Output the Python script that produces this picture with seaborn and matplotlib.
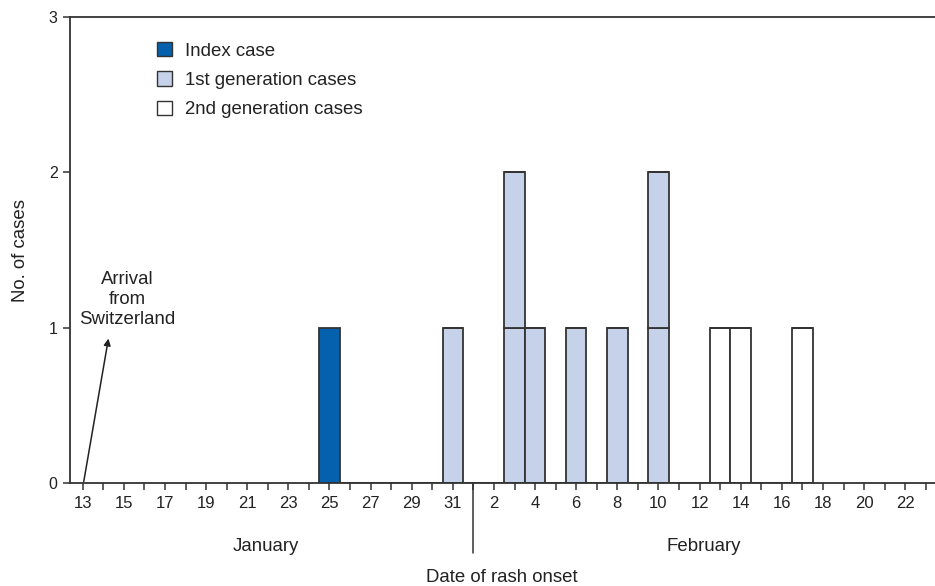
import matplotlib
matplotlib.use("Agg")
import matplotlib.pyplot as plt
import matplotlib.transforms as mtransforms
from matplotlib.patches import Patch
import seaborn as sns
import pandas as pd

# ---- data ----
day_labels = ["13", "15", "17", "19", "21", "23", "25", "27", "29", "31",
              "2", "4", "6", "8", "10", "12", "14", "16", "18", "20", "22"]
# case onset days (index: Jan 13 = 0 ... Feb 23 = 41)
case_day = [12, 18, 21, 21, 22, 24, 26, 28, 28, 31, 32, 35]
case_gen = ["Index case", "1st generation cases", "1st generation cases",
            "1st generation cases", "1st generation cases", "1st generation cases",
            "1st generation cases", "1st generation cases", "1st generation cases",
            "2nd generation cases", "2nd generation cases", "2nd generation cases"]
generations = ["Index case", "1st generation cases", "2nd generation cases"]
gen_colors = {"Index case": "#0561AE",
              "1st generation cases": "#C5D2E9",
              "2nd generation cases": "#FFFFFF"}
month_labels = ["January", "February"]
month_pos = [8.9, 30.2]
month_break = 19
arrival_day = 0

# ---- build table: each case gets its own stack level so boxes are separated ----
df = pd.DataFrame({"day": case_day, "gen": case_gen})
df["level"] = df.groupby("day").cumcount()
df["key"] = df["gen"] + "|" + df["level"].astype(str)
keys = sorted(df["key"].unique(), key=lambda k: (int(k.split("|")[1]), generations.index(k.split("|")[0])))
palette = {k: gen_colors[k.split("|")[0]] for k in keys}

sns.set_theme(style="white")
plt.rcParams["font.family"] = ["Liberation Sans", "DejaVu Sans"]

fig = plt.figure(figsize=(9.35, 5.86), dpi=100)
ax = fig.add_axes([70 / 935, 1 - 483 / 586, 1 - 70 / 935, (483 - 17) / 586])

sns.histplot(data=df, x="day", hue="key", hue_order=keys, palette=palette,
             multiple="stack", discrete=True, shrink=1.0, alpha=1.0,
             edgecolor="#333333", linewidth=1.3, legend=False, ax=ax)

ax.set_xlim(-0.62, 41.45)
ax.set_ylim(0, 3)
ax.set_yticks([0, 1, 2, 3])
ax.set_yticklabels(["0", "1", "2", "3"], fontsize=11.5, color="#222222")
ax.set_xticks(range(0, 42))
lbls = []
j = 0
for i in range(42):
    if i % 2 == 0 and j < len(day_labels):
        lbls.append(day_labels[j]); j += 1
    else:
        lbls.append("")
ax.set_xticklabels(lbls, fontsize=12, color="#222222")
ax.tick_params(axis="both", direction="out", length=5, width=1.1, color="#333333",
               bottom=True, left=True, pad=4)

for s in ["left", "bottom", "top"]:
    ax.spines[s].set_visible(True)
    ax.spines[s].set_color("#333333")
    ax.spines[s].set_linewidth(1.3)
ax.spines["right"].set_visible(False)

ax.set_xlabel("")
ax.set_ylabel("No. of cases", fontsize=13.4, color="#222222", labelpad=14)

# month separator and labels
trans = mtransforms.blended_transform_factory(ax.transData, ax.transAxes)
ax.plot([month_break, month_break], [0, -0.15], transform=trans, color="#333333",
        lw=1.1, clip_on=False)
for m, p in zip(month_labels, month_pos):
    ax.text(p, -0.137, m, transform=trans, ha="center", va="center",
            fontsize=13.4, color="#222222")
ax.text(20.4, -0.203, "Date of rash onset", transform=trans, ha="center", va="center",
        fontsize=13.4, color="#222222")

# arrival annotation
ax.text(2.15, 1.0, "Arrival\nfrom\nSwitzerland", ha="center", va="bottom",
        fontsize=13.4, color="#222222", linespacing=1.22)
ax.annotate("", xy=(1.25, 0.93), xytext=(arrival_day + 0.05, 0.01),
            arrowprops=dict(arrowstyle="-|>", color="#222222", lw=1.1,
                            shrinkA=0, shrinkB=0, mutation_scale=10))

handles = [Patch(facecolor=gen_colors[g], edgecolor="#333333", linewidth=1.0) for g in generations]
ax.legend(handles, generations, loc="upper left", bbox_to_anchor=(0.081, 0.982),
          frameon=False, fontsize=13.4, handlelength=0.8, handleheight=0.8,
          handletextpad=0.7, labelspacing=0.63, labelcolor="#222222")

fig.savefig("out.png", dpi=100)
